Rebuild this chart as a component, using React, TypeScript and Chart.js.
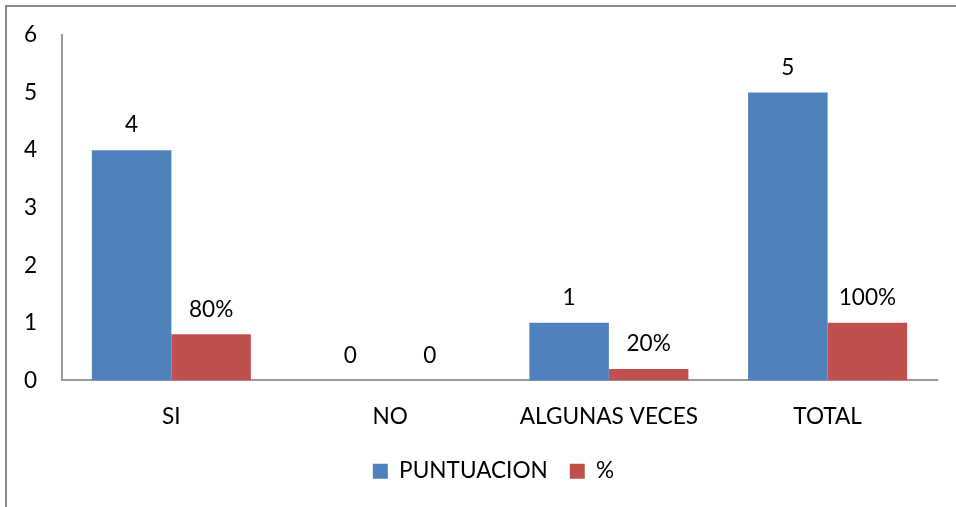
import React, { useEffect, useRef } from 'react';
import { Chart, registerables } from 'chart.js';

Chart.register(...registerables);

const categories = ['SI', 'NO', 'ALGUNAS VECES', 'TOTAL'];
const puntuacion = [4, 0, 1, 5];
const porcentaje = [0.8, 0, 0.2, 1];
const porcentajeLabels = ['80%', '0', '20%', '100%'];
const seriesNames = ['PUNTUACION', '%'];
const yMin = 0;
const yMax = 6;

const FONT = 'Lato, "Open Sans", sans-serif';
const FSIZE = 22.6;

const framePlugin = {
  id: 'frame',
  beforeDraw(chart: any) {
    const ctx = chart.ctx;
    ctx.save();
    ctx.fillStyle = '#ffffff';
    ctx.fillRect(0, 0, chart.width, chart.height);
    ctx.strokeStyle = '#888888';
    ctx.lineWidth = 2;
    ctx.strokeRect(6, 6, chart.width + 20, chart.height + 20);
    ctx.restore();
  },
};

const legendShift = {
  id: 'legendShift',
  afterLayout(chart: any) {
    if (chart.legend) {
      chart.legend.left -= 6;
      chart.legend.right -= 6;
    }
  },
};

const labelPlugin = {
  id: 'barLabels',
  afterDatasetsDraw(chart: any) {
    const ctx = chart.ctx;
    ctx.save();
    ctx.font = `${FSIZE}px ${FONT}`;
    ctx.fillStyle = '#000000';
    ctx.textAlign = 'center';
    ctx.textBaseline = 'middle';
    chart.data.datasets.forEach((ds: any, di: number) => {
      const meta = chart.getDatasetMeta(di);
      meta.data.forEach((el: any, i: number) => {
        const text = di === 0 ? String(ds.data[i]) : porcentajeLabels[i];
        ctx.fillText(text, el.x, el.y - 25);
      });
    });
    ctx.restore();
  },
};

export default function App() {
  const ref = useRef<HTMLCanvasElement | null>(null);
  useEffect(() => {
    if (!ref.current) return;
    const chart = new Chart(ref.current, {
      type: 'bar',
      data: {
        labels: categories,
        datasets: [
          {
            label: seriesNames[0],
            data: puntuacion,
            backgroundColor: '#4F81BD',
            categoryPercentage: 0.727,
            barPercentage: 1,
          },
          {
            label: seriesNames[1],
            data: porcentaje,
            backgroundColor: '#C0504D',
            categoryPercentage: 0.727,
            barPercentage: 1,
          },
        ],
      },
      options: {
        responsive: false,
        animation: false,
        layout: { padding: { top: 35, left: 0, right: 19, bottom: 14.5 } },
        plugins: {
          tooltip: { enabled: false },
          legend: {
            position: 'bottom',
            fullSize: false,
            labels: {
              boxWidth: 15,
              boxHeight: 15,
              padding: 22,
              color: '#000000',
              font: { family: FONT, size: FSIZE },
            },
          },
        },
        scales: {
          x: {
            grid: { display: false, drawTicks: false },
            border: { display: true, color: '#9a9a9a', width: 2 },
            ticks: { color: '#000000', padding: 23, font: { family: FONT, size: FSIZE } },
            afterFit(scale: any) {
              scale.height = 57.5;
            },
          },
          y: {
            min: yMin,
            max: yMax,
            grid: { display: false, drawTicks: false },
            border: { display: true, color: '#9a9a9a', width: 2 },
            ticks: { stepSize: 1, color: '#000000', padding: 25, font: { family: FONT, size: FSIZE } },
            afterFit(scale: any) {
              scale.width = 62;
              scale.paddingTop = 0;
              scale.paddingBottom = 0;
            },
          },
        },
      },
      plugins: [framePlugin, legendShift, labelPlugin],
    });
    return () => chart.destroy();
  }, []);
  return (
    <div style={{ position: 'fixed', left: 0, top: 0, width: 956, height: 507, overflow: 'hidden', background: '#fff' }}>
      <canvas ref={ref} width={956} height={507} style={{ display: 'block', width: 956, height: 507 }} />
    </div>
  );
}
